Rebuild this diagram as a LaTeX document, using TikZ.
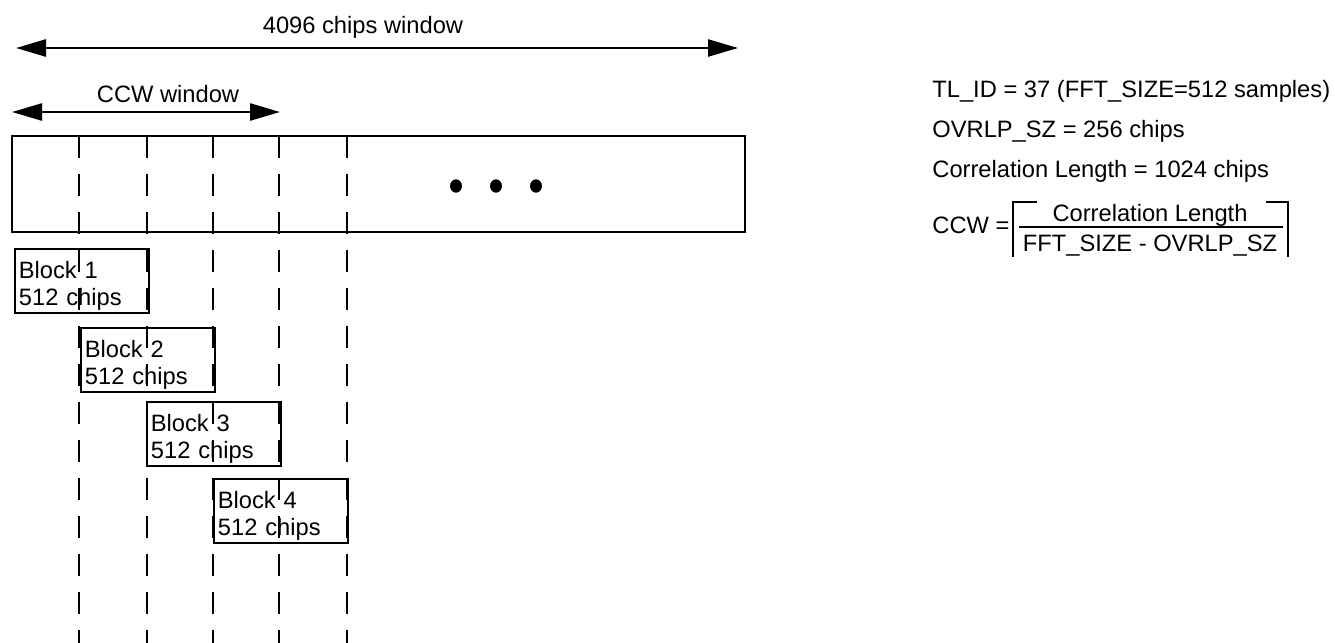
\documentclass[tikz,border=0pt]{standalone}
\usepackage{fontspec}
\setmainfont{Liberation Sans}
\usepackage{tikz}
\usetikzlibrary{arrows.meta}

\begin{document}
\begin{tikzpicture}[x=0.5pt,y=-0.5pt,font=\fontsize{11.85}{13.5}\selectfont,
  span/.style={{Triangle[length=15pt,width=8.5pt]}-{Triangle[length=15pt,width=8.5pt]},line width=1.3pt},
  guide/.style={line width=0.9pt,dash pattern=on 11pt off 8pt},
  blockbox/.style={draw,line width=0.9pt,anchor=north west,align=left,text width=63pt,inner xsep=2pt,inner ysep=0pt,text height=15pt,text depth=17pt},
  note/.style={anchor=base west,inner sep=0pt},
  frac/.style={anchor=base,inner sep=0pt}]
\useasboundingbox (0,0) rectangle (1335,643);
\coordinate (w0) at (16,48);
\coordinate (w1) at (738,48);
\coordinate (c0) at (12,112);
\coordinate (c1) at (280,112);
\draw[span] (w0) -- (w1);
\node[frac] (wl) at (363,33) {4096 chips window};
\draw[span] (c0) -- (c1);
\node[frac] (cl) at (168,102) {CCW window};
\draw[line width=1pt] (12,136) rectangle (745,232);
\foreach \x in {456,496,536}
  \fill (\x,186) ellipse (6 and 6.7);
\node[blockbox] (b1) at (14,248) {Block 1\\512 chips};
\node[blockbox] (b2) at (80,327) {Block 2\\512 chips};
\node[blockbox] (b3) at (146,401) {Block 3\\512 chips};
\node[blockbox] (b4) at (213,478) {Block 4\\512 chips};
\foreach \x in {79,147,213,279,347}
  \draw[guide] (\x,136) -- (\x,643);
\node[note] (tl) at (932,97) {TL\_ID = 37 (FFT\_SIZE=512 samples)};
\node[note] (ov) at (932,137) {OVRLP\_SZ = 256 chips};
\node[note] (cor) at (932,177) {Correlation Length = 1024 chips};
\node[note] (ccw) at (932,233) {CCW =};
\node[frac] (num) at (1150,221) {Correlation Length};
\node[frac] (den) at (1150,251) {FFT\_SIZE - OVRLP\_SZ};
\draw[line width=0.8pt] (1019,227) -- (1283,227);
\draw[line width=0.8pt] (1037,202) -- (1013,202) -- (1013,257);
\draw[line width=0.8pt] (1266,202) -- (1288,202) -- (1288,257);
\end{tikzpicture}
\end{document}
